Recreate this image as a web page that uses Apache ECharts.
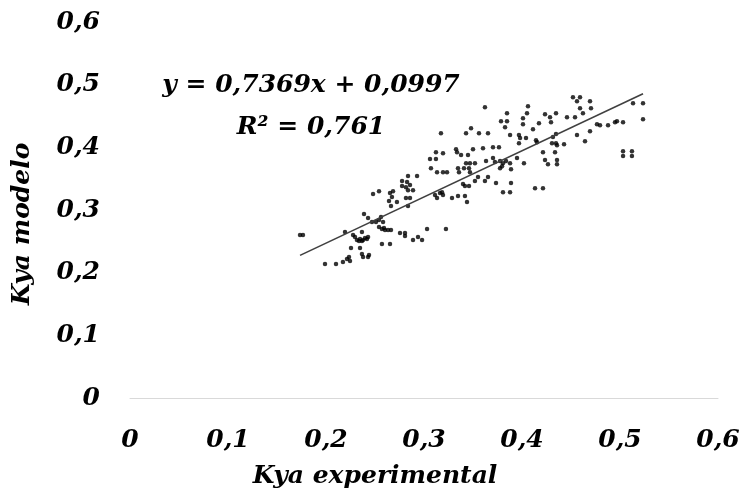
<!DOCTYPE html>
<html>
<head>
<meta charset="utf-8">
<script src="https://cdn.jsdelivr.net/npm/echarts@6/dist/echarts.min.js"></script>
<style>
  html, body { margin: 0; padding: 0; background: #fff; }
  #chart { width: 747px; height: 492px; }
</style>
</head>
<body>
<div id="chart"></div>
<script>
// Kya experimental (x) values
const expX = [
  0.1735, 0.1765, 0.199, 0.2102, 0.2173, 0.2214, 0.2235, 0.2245, 0.2255, 0.2194,
  0.2276, 0.2296, 0.2316, 0.2337, 0.2347, 0.2367, 0.2378, 0.2398, 0.2418, 0.2429,
  0.2367, 0.2347, 0.2367, 0.2378, 0.2439, 0.2429, 0.248, 0.2541, 0.2388, 0.2429,
  0.2469, 0.251, 0.2541, 0.2561, 0.2582, 0.2541, 0.2571, 0.2592, 0.2602, 0.2633,
  0.2663, 0.2571, 0.2653, 0.2755, 0.2806, 0.2806, 0.2653, 0.2684, 0.2673, 0.2643,
  0.2724, 0.2663, 0.2776, 0.2827, 0.2837, 0.2929, 0.2776, 0.2816, 0.2857, 0.2888,
  0.2837, 0.2816, 0.2857, 0.2837, 0.2888, 0.2939, 0.298, 0.3031, 0.3224, 0.3112,
  0.3133, 0.3163, 0.3184, 0.3194, 0.3286, 0.3347, 0.3418, 0.3439, 0.3398, 0.3418,
  0.3459, 0.352, 0.3551, 0.3622, 0.3653, 0.3735, 0.3888, 0.3806, 0.3878, 0.3071,
  0.3133, 0.3194, 0.3235, 0.3347, 0.3357, 0.3408, 0.3459, 0.3469, 0.3061, 0.3122,
  0.3122, 0.3194, 0.3327, 0.3337, 0.3378, 0.35, 0.3449, 0.3602, 0.3704, 0.3765,
  0.3429, 0.3469, 0.352, 0.3633, 0.3704, 0.3724, 0.3776, 0.3806, 0.3837, 0.3878,
  0.3949, 0.402, 0.3776, 0.3796, 0.3888, 0.3173, 0.3429, 0.348, 0.3561, 0.3653,
  0.3622, 0.4061, 0.3847, 0.4051, 0.3786, 0.3847, 0.401, 0.401, 0.3827, 0.4112,
  0.4173, 0.4235, 0.4286, 0.4347, 0.4296, 0.3878, 0.3969, 0.398, 0.4041, 0.3969,
  0.4143, 0.4153, 0.4214, 0.4235, 0.4265, 0.4337, 0.4357, 0.4357, 0.4133, 0.4214,
  0.4347, 0.4316, 0.4306, 0.4347, 0.4357, 0.4429, 0.452, 0.4561, 0.4592, 0.4694,
  0.4592, 0.4622, 0.4704, 0.4459, 0.4541, 0.4765, 0.4796, 0.4878, 0.4949, 0.4969,
  0.5031, 0.5133, 0.5235, 0.5235, 0.4694, 0.4561, 0.4643, 0.5031, 0.5122, 0.5031,
  0.5122
];
// Kya modelo (y) values
const modY = [
  0.26, 0.26, 0.2137, 0.2137, 0.2169, 0.2217, 0.2249, 0.2185, 0.2392, 0.2648,
  0.26, 0.2568, 0.252, 0.2504, 0.2536, 0.2504, 0.252, 0.2552, 0.2536, 0.2568,
  0.2648, 0.2392, 0.2297, 0.2249, 0.2281, 0.2249, 0.3254, 0.3301, 0.2935, 0.2871,
  0.2807, 0.2807, 0.2839, 0.2887, 0.2807, 0.2727, 0.2695, 0.2711, 0.2679, 0.2679,
  0.2679, 0.2456, 0.2456, 0.2632, 0.2632, 0.2584, 0.327, 0.3301, 0.3206, 0.3142,
  0.3126, 0.3062, 0.3461, 0.3445, 0.3541, 0.3541, 0.3381, 0.3365, 0.3397, 0.3317,
  0.3317, 0.319, 0.319, 0.3062, 0.252, 0.2568, 0.252, 0.2695, 0.2695, 0.3238,
  0.319, 0.327, 0.3285, 0.3238, 0.319, 0.3222, 0.3222, 0.3126, 0.3413, 0.3381,
  0.3381, 0.3461, 0.3525, 0.3461, 0.3525, 0.3429, 0.3429, 0.3285, 0.3285, 0.3668,
  0.3604, 0.3604, 0.3604, 0.3668, 0.3604, 0.3668, 0.3668, 0.3604, 0.3812, 0.3812,
  0.3923, 0.3907, 0.3971, 0.3923, 0.3876, 0.3971, 0.3876, 0.3987, 0.4003, 0.4003,
  0.3748, 0.3748, 0.3748, 0.378, 0.3828, 0.3764, 0.378, 0.3748, 0.378, 0.3748,
  0.3828, 0.3748, 0.3668, 0.37, 0.3652, 0.4226, 0.4226, 0.4306, 0.4226, 0.4226,
  0.4641, 0.4657, 0.4545, 0.4545, 0.4418, 0.4418, 0.4466, 0.437, 0.4322, 0.429,
  0.4386, 0.4529, 0.4482, 0.4545, 0.4402, 0.4195, 0.4195, 0.4147, 0.4147, 0.4067,
  0.4115, 0.4083, 0.3923, 0.3796, 0.3732, 0.3923, 0.3796, 0.3732, 0.3349, 0.3349,
  0.4211, 0.4163, 0.4067, 0.4067, 0.4035, 0.4051, 0.4801, 0.4737, 0.4801, 0.4737,
  0.4625, 0.4545, 0.4625, 0.4482, 0.4482, 0.437, 0.4354, 0.4354, 0.4402, 0.4418,
  0.4402, 0.4705, 0.4705, 0.445, 0.4258, 0.4195, 0.4099, 0.3939, 0.3939, 0.386,
  0.386
];
// Trendline parameters (from the chart's equation)
const trendSlope = [0.7369];
const trendIntercept = [0.0997];
const r2Value = ['0,761'];
// Tick labels
const xTickLabels = ['0', '0,1', '0,2', '0,3', '0,4', '0,5', '0,6'];
const yTickLabels = ['0', '0,1', '0,2', '0,3', '0,4', '0,5', '0,6'];
const xTitle = 'Kya experimental';
const yTitle = 'Kya modelo';

const points = expX.map((x, i) => [x, modY[i]]);
const xMin = Math.min(...expX), xMax = Math.max(...expX);
const trend = [xMin, xMax].map(x => [x, trendSlope[0] * x + trendIntercept[0]]);

const FONT = '"DejaVu Serif", "Liberation Serif", serif';
const labelStyle = { fontFamily: FONT, fontWeight: 'bold', fontStyle: 'italic', fontSize: 25, color: '#000' };

const chart = echarts.init(document.getElementById('chart'), null, { renderer: 'canvas' });
chart.setOption({
  animation: false,
  backgroundColor: '#fff',
  grid: { left: 130, right: 29, top: 22, bottom: 94, outerBoundsMode: 'none' },
  xAxis: {
    type: 'value', min: 0, max: 0.6, interval: 0.1,
    axisLine: { show: true, lineStyle: { color: '#d9d9d9', width: 1 } },
    axisTick: { show: false },
    splitLine: { show: false },
    axisLabel: Object.assign({}, labelStyle, {
      margin: 30,
      formatter: v => xTickLabels[Math.round(v * 10)]
    })
  },
  yAxis: {
    type: 'value', min: 0, max: 0.6, interval: 0.1,
    axisLine: { show: false },
    axisTick: { show: false },
    splitLine: { show: false },
    axisLabel: Object.assign({}, labelStyle, {
      margin: 30,
      formatter: v => yTickLabels[Math.round(v * 10)]
    })
  },
  series: [
    {
      type: 'scatter',
      data: points,
      symbol: 'circle',
      symbolSize: 4.5,
      itemStyle: { color: '#000' },
      z: 2
    },
    {
      type: 'line',
      data: trend,
      symbol: 'none',
      lineStyle: { color: '#404040', width: 1.6 },
      z: 3
    }
  ],
  graphic: [
    {
      type: 'text', left: 'center', top: 0,
      x: 0, 
      style: {}
    }
  ]
});

// Titles and equation as text
chart.setOption({
  graphic: [
    {
      type: 'text',
      x: 375, y: 476,
      style: {
        text: xTitle, x: 0, y: 0, align: 'center', verticalAlign: 'middle',
        font: 'italic bold 25px ' + FONT, fill: '#000'
      }
    },
    {
      type: 'text',
      x: 22, y: 224, rotation: Math.PI / 2,
      style: {
        text: yTitle, x: 0, y: 0, align: 'center', verticalAlign: 'middle',
        font: 'italic bold 25px ' + FONT, fill: '#000'
      }
    },
    {
      type: 'text',
      x: 311, y: 85,
      style: {
        text: 'y = ' + trendSlope[0].toFixed(4).replace('.', ',') + 'x + ' + trendIntercept[0].toFixed(4).replace('.', ','),
        x: 0, y: 0, align: 'center', verticalAlign: 'middle',
        font: 'italic bold 25px ' + FONT, fill: '#000'
      }
    },
    {
      type: 'text',
      x: 311, y: 127,
      style: {
        text: 'R² = ' + r2Value[0],
        x: 0, y: 0, align: 'center', verticalAlign: 'middle',
        font: 'italic bold 25px ' + FONT, fill: '#000'
      }
    }
  ]
}, { replaceMerge: ['graphic'] });
</script>
</body>
</html>
